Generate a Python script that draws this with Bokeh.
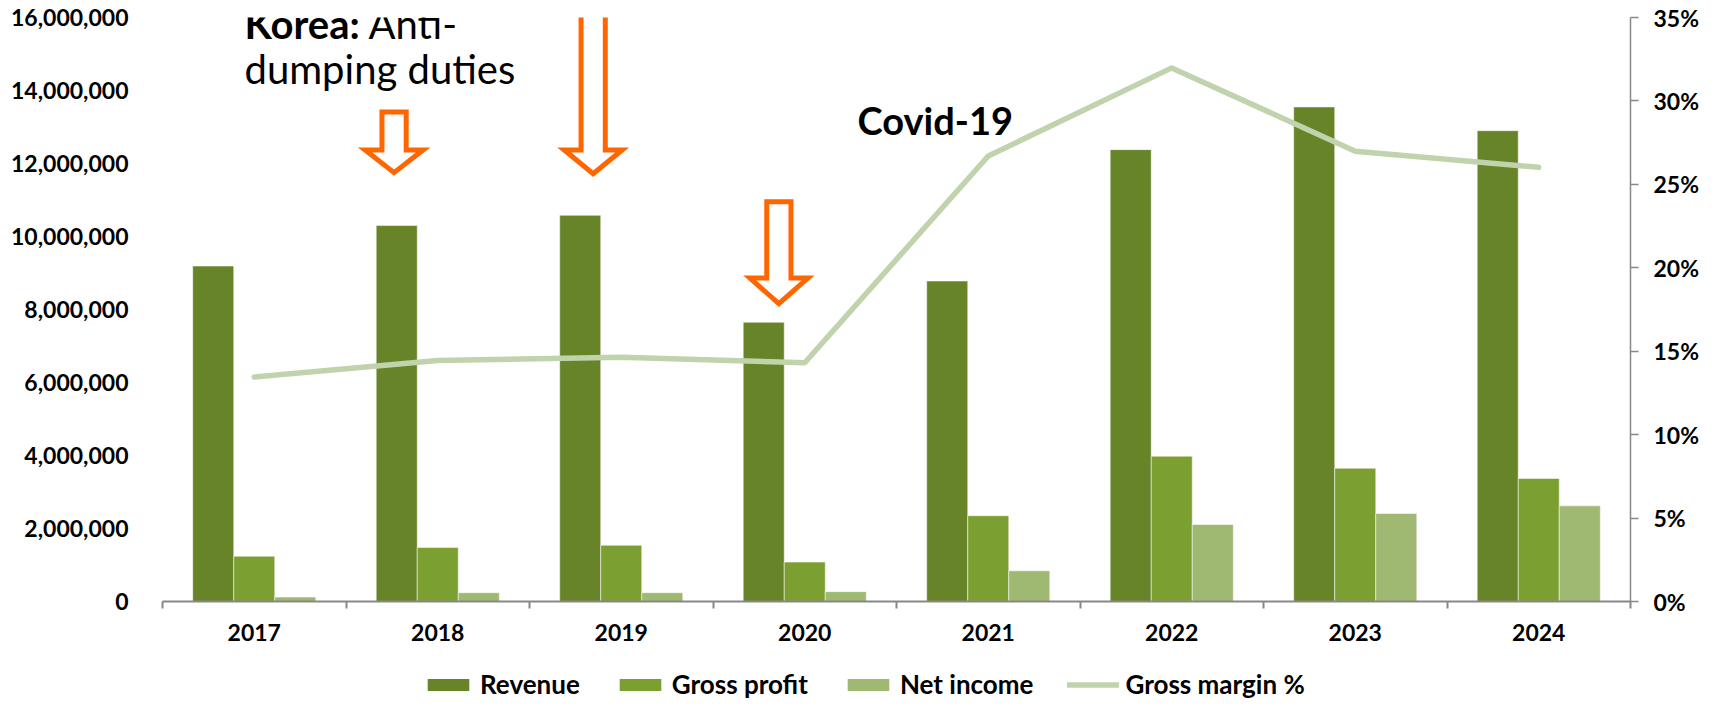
from bokeh.plotting import figure
from bokeh.layouts import column
from bokeh.models import (Range1d, LinearAxis, FixedTicker, NumeralTickFormatter,
                          CustomJSTickFormatter, Legend, LegendItem, Label,
                          PolyAnnotation, ColumnDataSource)
from bokeh.transform import dodge
from bokeh.embed import file_html
from bokeh.resources import INLINE

# ---------------- data ----------------
years = ["2017", "2018", "2019", "2020", "2021", "2022", "2023", "2024"]
revenue = [9.19e6, 10.30e6, 10.58e6, 7.65e6, 8.78e6, 12.38e6, 13.55e6, 12.90e6]
gross_profit = [1.24e6, 1.48e6, 1.54e6, 1.08e6, 2.35e6, 3.98e6, 3.65e6, 3.37e6]
net_income = [0.12e6, 0.24e6, 0.24e6, 0.27e6, 0.84e6, 2.11e6, 2.41e6, 2.62e6]
gross_margin = [0.1346, 0.1445, 0.1464, 0.1431, 0.2670, 0.3198, 0.2699, 0.2602]

left_ticks = [0, 2e6, 4e6, 6e6, 8e6, 10e6, 12e6, 14e6, 16e6]
right_ticks = [0, 0.05, 0.10, 0.15, 0.20, 0.25, 0.30, 0.35]

# annotation arrows: (center x, top y, shoulder y, tip y)
arrows = [
    (1.262, 13.41e6, 12.37e6, 11.75e6),
    (2.347, 16.90e6, 12.37e6, 11.72e6),
    (3.359, 10.95e6, 8.86e6, 8.16e6),
]

# ---------------- style ----------------
C_REV = "#688428"
C_GP = "#7C9F31"
C_NI = "#9FB872"
C_GM = "#C1D3AC"
C_AX = "#888888"
C_ARROW = "#FF6600"
FONT = "Lato"
TICK_FS = "23px"
LEG_FS = "26px"
BAR_W = 0.2236

centers = [i + 0.5 for i in range(len(years))]
src = ColumnDataSource(dict(x=centers, rev=revenue, gp=gross_profit, ni=net_income,
                            gm=gross_margin))

p = figure(width=1702, height=650, x_range=Range1d(0, 8), y_range=Range1d(0, 16e6),
           output_backend="svg", toolbar_location=None,
           min_border_left=162, min_border_right=71, min_border_top=17,
           min_border_bottom=49, outline_line_color=None, background_fill_color="white")
p.xgrid.visible = False
p.ygrid.visible = False
p.extra_y_ranges = {"pct": Range1d(0, 0.35)}

# bars
bar_kw = dict(source=src, width=BAR_W, line_color="white", line_width=1, line_alpha=0.5)
p.vbar(x=dodge("x", -BAR_W, range=p.x_range), top="rev", fill_color=C_REV, **bar_kw)
p.vbar(x=dodge("x", 0, range=p.x_range), top="gp", fill_color=C_GP, **bar_kw)
p.vbar(x=dodge("x", BAR_W, range=p.x_range), top="ni", fill_color=C_NI, **bar_kw)

# line
p.line(x="x", y="gm", source=src, y_range_name="pct", line_color=C_GM,
       line_width=5.5, line_join="round", line_cap="round")

# x axis
xa = p.xaxis[0]
xa.ticker = FixedTicker(ticks=centers, minor_ticks=list(range(len(years) + 1)))
xa.formatter = CustomJSTickFormatter(args=dict(labels=years),
                                     code="return labels[Math.floor(tick)] || ''")
xa.axis_line_color = C_AX
xa.axis_line_width = 2
xa.major_tick_line_color = None
xa.major_tick_out = 0
xa.major_tick_in = 0
xa.minor_tick_line_color = C_AX
xa.minor_tick_line_width = 2
xa.minor_tick_out = 7
xa.minor_tick_in = 0
xa.major_label_standoff = 15
xa.major_label_text_font = FONT
xa.major_label_text_font_style = "bold"
xa.major_label_text_font_size = TICK_FS
xa.major_label_text_color = "black"

# left axis
ya = p.yaxis[0]
ya.ticker = FixedTicker(ticks=left_ticks)
ya.formatter = NumeralTickFormatter(format="0,0")
ya.axis_line_color = None
ya.major_tick_line_color = None
ya.minor_tick_line_color = None
ya.major_tick_out = 0
ya.major_tick_in = 0
ya.major_label_standoff = 34
ya.major_label_text_font = FONT
ya.major_label_text_font_style = "bold"
ya.major_label_text_font_size = TICK_FS
ya.major_label_text_color = "black"

# right axis
ra = LinearAxis(y_range_name="pct", ticker=FixedTicker(ticks=right_ticks),
                formatter=NumeralTickFormatter(format="0%"))
ra.axis_line_color = C_AX
ra.axis_line_width = 1.5
ra.major_tick_line_color = C_AX
ra.major_tick_line_width = 1.5
ra.major_tick_out = 8
ra.major_tick_in = 0
ra.minor_tick_line_color = None
ra.major_label_standoff = 15
ra.major_label_text_font = FONT
ra.major_label_text_font_style = "bold"
ra.major_label_text_font_size = TICK_FS
ra.major_label_text_color = "black"
p.add_layout(ra, "right")

# arrows
SHAFT = 0.066
HEAD = 0.158
for cx, top, sh, tip in arrows:
    xs = [cx - SHAFT, cx + SHAFT, cx + SHAFT, cx + HEAD, cx, cx - HEAD, cx - SHAFT]
    ys = [top, top, sh, sh, tip, sh, sh]
    p.add_layout(PolyAnnotation(xs=xs, ys=ys, xs_units="data", ys_units="data",
                                fill_color="white", fill_alpha=1.0,
                                line_color=C_ARROW, line_alpha=1.0, line_width=5,
                                line_join="miter"))

# text annotations
p.add_layout(Label(x=0.447, y=15.82e6, text="Korea:", text_font=FONT,
                   text_font_style="bold", text_font_size="40px", text_color="black",
                   text_baseline="alphabetic"))
p.add_layout(Label(x=1.123, y=15.82e6, text="Anti-", text_font=FONT,
                   text_font_size="40px", text_color="black", text_baseline="alphabetic"))
p.add_layout(Label(x=0.447, y=14.60e6, text="dumping duties", text_font=FONT,
                   text_font_size="40px", text_color="black", text_baseline="alphabetic"))
p.add_layout(Label(x=3.788, y=13.19e6, text="Covid-19", text_font=FONT,
                   text_font_style="bold", text_font_size="38px", text_color="black",
                   text_baseline="alphabetic"))

# legend strip (separate figure below the chart, frames aligned with the chart)
pl = figure(width=1702, height=50, x_range=Range1d(0, 1), y_range=Range1d(0, 1),
            output_backend="svg", toolbar_location=None, x_axis_type=None,
            y_axis_type=None, min_border=0, outline_line_color=None)
pl.xgrid.visible = False
pl.ygrid.visible = False
# zero-size placeholder glyphs: they only supply the legend swatches
l_rev = pl.vbar(x=[0.5], top=[0], bottom=[0], width=0, fill_color=C_REV, line_color=None)
l_gp = pl.vbar(x=[0.5], top=[0], bottom=[0], width=0, fill_color=C_GP, line_color=None)
l_ni = pl.vbar(x=[0.5], top=[0], bottom=[0], width=0, fill_color=C_NI, line_color=None)
l_gm = pl.line(x=[0.5], y=[0.5], line_color=C_GM, line_width=5.5, line_cap="round")

legend = Legend(items=[LegendItem(label="Revenue", renderers=[l_rev]),
                       LegendItem(label="Gross profit", renderers=[l_gp]),
                       LegendItem(label="Net income", renderers=[l_ni]),
                       LegendItem(label="Gross margin %", renderers=[l_gm])],
                location=(260, 0), orientation="horizontal",
                background_fill_alpha=0, border_line_color=None, padding=0, margin=0,
                spacing=34, glyph_width=52, glyph_height=15, label_standoff=6,
                label_text_font=FONT, label_text_font_style="bold",
                label_text_font_size=LEG_FS, label_text_color="black")
pl.add_layout(legend, "center")

layout = column(p, pl, spacing=0)
open("out.html", "w").write(file_html(layout, INLINE))
